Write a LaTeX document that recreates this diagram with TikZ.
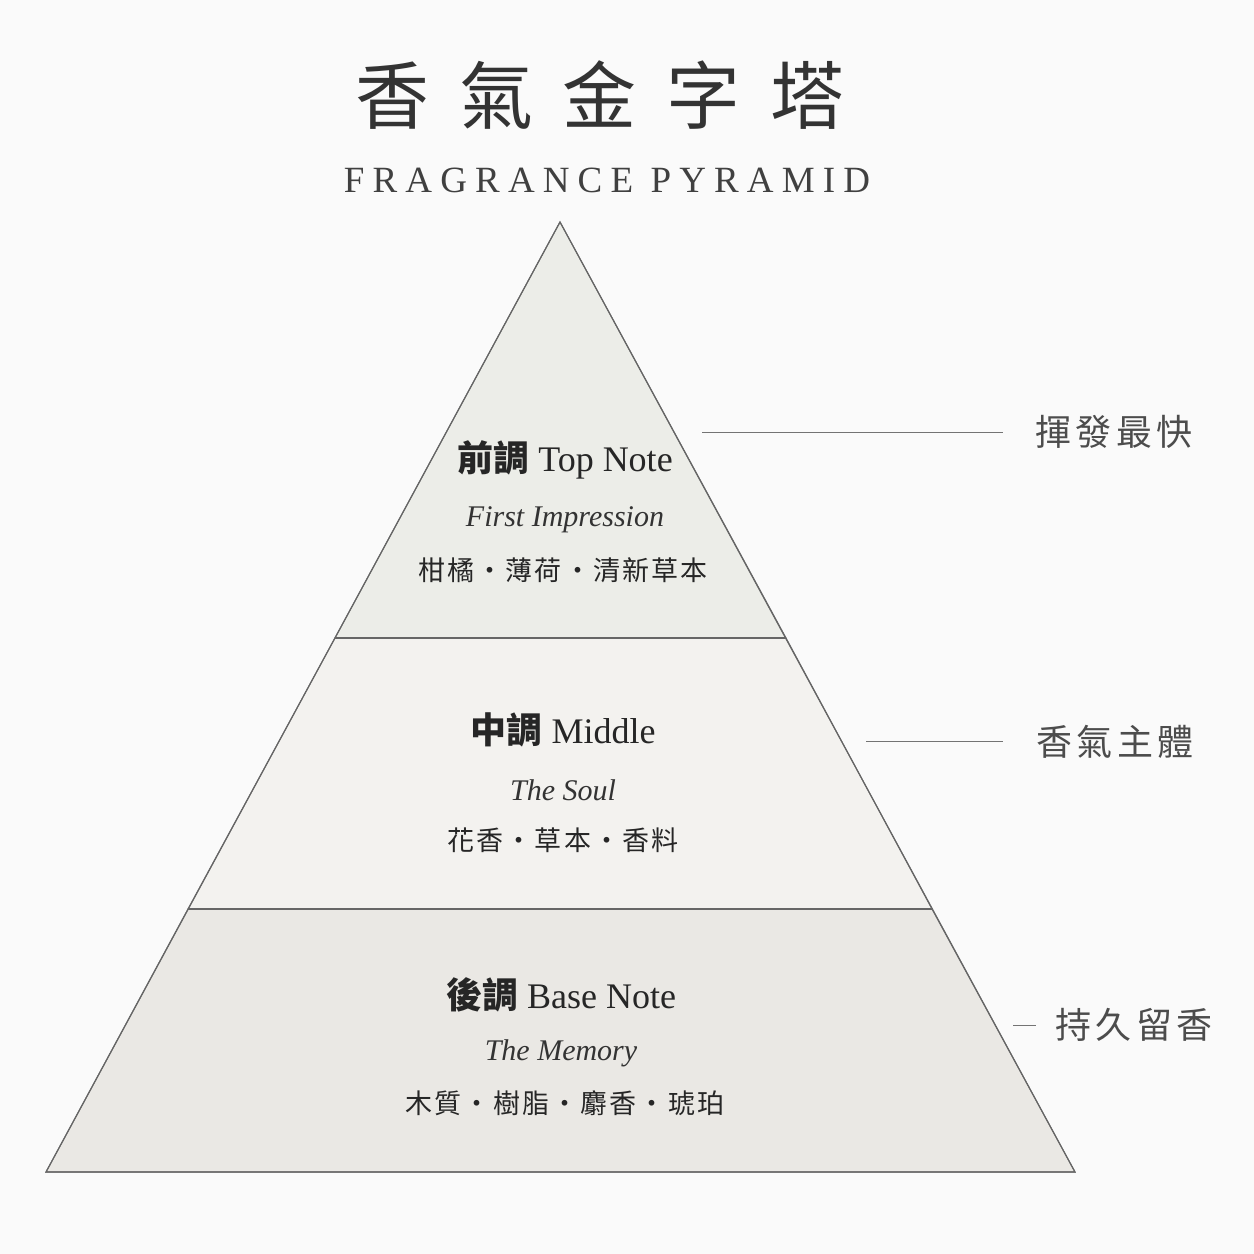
\documentclass[tikz,border=0pt]{standalone}
\usepackage{fontspec}
\setmainfont{Liberation Serif}
\newfontfamily\cjk{Noto Sans CJK TC}
\begin{document}
\begin{tikzpicture}[x=1pt,y=-1pt,
  tier/.style={draw=black!60,line width=1.1pt},
  lead/.style={draw=black!55,line width=0.9pt},
  side/.style={font=\cjk\fontsize{36}{40}\selectfont\addfontfeature{LetterSpace=12},text=black!70},
  head/.style={font=\fontsize{36}{40}\selectfont,text=black!85},
  sub/.style={font=\itshape\fontsize{30}{34}\selectfont,text=black!80},
  items/.style={font=\cjk\fontsize{27}{30}\selectfont\addfontfeature{LetterSpace=8},text=black!85}]
\useasboundingbox (0,0) rectangle (1254,1254);
\fill[white!98!black] (0,0) rectangle (1254,1254);
\fill[tier,fill={rgb,255:red,236;green,237;blue,232}] (560,222) coordinate (apex) -- (786,638) coordinate (tr) -- (335,638) coordinate (tl) -- cycle;
\fill[tier,fill={rgb,255:red,243;green,242;blue,239}] (tl) -- (tr) -- (932,909) coordinate (mr) -- (188,909) coordinate (ml) -- cycle;
\fill[tier,fill={rgb,255:red,234;green,232;blue,228}] (ml) -- (mr) -- (1075,1172) coordinate (br) -- (46,1172) coordinate (bl) -- cycle;
\draw[tier] (apex) -- (br) -- (bl) -- cycle;
\draw[tier] (tl) -- (tr) (ml) -- (mr);
\node (t1) at (600,95) {\cjk\fontsize{74}{80}\selectfont\addfontfeature{LetterSpace=40}\color{black!80}香氣金字塔};
\node (t2) at (607,180) {\fontsize{37}{40}\selectfont\addfontfeature{LetterSpace=22}\color{black!75}FRAGRANCE PYRAMID};
\node[head] (h1) at (565,460) {{\cjk\bfseries 前調} Top Note};
\node[sub] (s1) at (565,520) {First Impression};
\node[items] (i1) at (563,570) {柑橘・薄荷・清新草本};
\node[head] (h2) at (563,730) {{\cjk\bfseries 中調} Middle};
\node[sub] (s2) at (563,790) {The Soul};
\node[items] (i2) at (563,840) {花香・草本・香料};
\node[head] (h3) at (561,995) {{\cjk\bfseries 後調} Base Note};
\node[sub] (s3) at (561,1053) {The Memory};
\node[items] (i3) at (565,1103) {木質・樹脂・麝香・琥珀};
\node[side] (r1) at (1114,432) {揮發最快};
\coordinate (a1) at (702,432); \coordinate (b1) at (1003,432);
\draw[lead] (a1) -- (b1);
\node[side] (r2) at (1115,742) {香氣主體};
\coordinate (a2) at (866,741); \coordinate (b2) at (1003,741);
\draw[lead] (a2) -- (b2);
\node[side] (r3) at (1134,1025) {持久留香};
\coordinate (a3) at (1013,1025); \coordinate (b3) at (1036,1025);
\draw[lead] (a3) -- (b3);
\end{tikzpicture}
\end{document}
